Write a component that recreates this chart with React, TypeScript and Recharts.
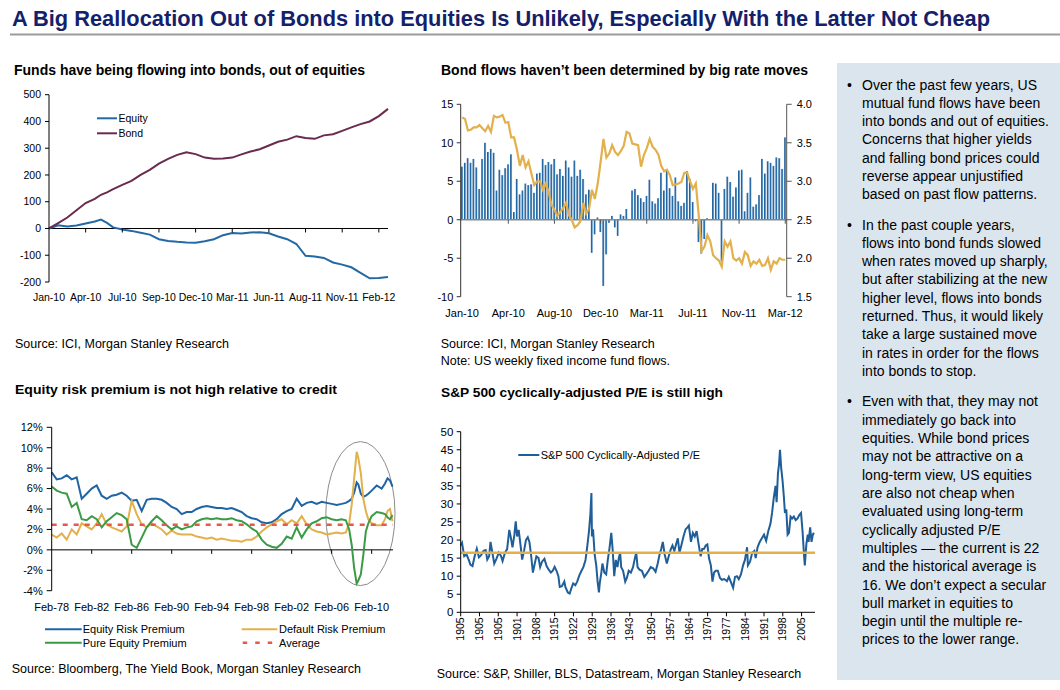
import React from 'react';
import { LineChart, Line, ComposedChart, Bar, XAxis, YAxis, ReferenceLine, ReferenceArea, ReferenceDot } from 'recharts';

const FONT = '"Liberation Sans", Arial, sans-serif';

// --- Chart 1: cumulative fund flows ($bn), x = weeks since Jan-10
const fundWeeks = [0, 3, 6, 9, 12, 15, 17, 19, 21, 24, 27, 30, 33, 36, 39, 42, 45, 48, 51, 54, 57, 60, 63, 66, 69, 72, 75, 78, 81, 84, 87, 90, 93, 96, 99, 102, 105, 108, 111];
const equityFlows = [0, 12, 7, 11, 19, 26, 33, 21, 4, -4, -9, -16, -23, -40, -47, -50, -52, -53, -48, -40, -25, -17, -19, -15, -14, -18, -30, -40, -58, -102, -105, -110, -127, -135, -145, -166, -186, -185, -181];
const bondFlows = [0, 20, 41, 68, 95, 111, 126, 135, 147, 163, 178, 200, 219, 242, 260, 275, 285, 278, 265, 261, 262, 265, 277, 288, 296, 310, 324, 332, 345, 338, 335, 348, 352, 365, 378, 390, 400, 420, 447];
const fundTickWeeks = [0, 12, 24, 36, 48, 60, 72, 84, 96, 108];
const fundTickLabels = ['Jan-10', 'Apr-10', 'Jul-10', 'Sep-10', 'Dec-10', 'Mar-11', 'Jun-11', 'Aug-11', 'Nov-11', 'Feb-12'];
const fundTicksY = [-200, -100, 0, 100, 200, 300, 400, 500];

// --- Chart 2: weekly bond fund flows ($bn) and 10y yield (%)
const weeklyFlows = [
  6.9, 7.4, 8.0, 7.4, 7.9, 6.8, 4.0, 7.9, 10.0, 8.8,
  9.2, 8.7, 3.8, 6.5, 5.8, 6.7, 7.2, 8.5, 1.0, 5.3,
  3.3, 3.8, 4.7, 4.5, 4.6, 3.5, 6.0, 6.1, 7.9, 7.1,
  7.5, 7.2, 7.9, 5.9, 6.6, 5.7, 7.7, 6.8, 5.6, 7.7,
  5.7, 6.5, 5.3, 3.3, 3.9, -4.3, -1.9, 0.3, -1.6, -8.6,
  -4.5, -0.4, 0.5, -1.0, -2.1, 0.7, 0.5, 1.4, 0.1, 3.8,
  4.0, 3.2, 2.8, 2.3, 3.1, 5.2, 2.4, 2.1, 2.8, 6.1,
  3.8, 6.5, 4.1, 3.1, 5.5, 2.4, 1.8, 2.2, 6.3, 5.3,
  2.3, -0.2, -2.9, -4.4, -2.5, 0.2, 0.1, 4.8, 4.7, 3.5,
  -5.4, 4.0, 5.6, 4.9, 3.0, 4.2, 6.4, 6.5, 1.1, 3.5,
  5.5, 1.7, 2.0, 3.2, 7.9, 6.0, 7.6, 7.4, 7.0, 8.1,
  8.0, 6.6, 10.7,
];
const tenYearYield = [
  3.83, 3.81, 3.66, 3.67, 3.70, 3.70, 3.73, 3.69, 3.65, 3.72,
  3.64, 3.85, 3.83, 3.84, 3.86, 3.76, 3.77, 3.57, 3.57, 3.41,
  3.20, 3.34, 3.18, 3.26, 3.10, 2.95, 3.00, 3.00, 2.89, 2.97,
  2.86, 2.69, 2.63, 2.55, 2.60, 2.65, 2.72, 2.56, 2.50, 2.40,
  2.43, 2.48, 2.72, 2.58, 2.64, 2.89, 2.77, 2.97, 3.25, 3.55,
  3.31, 3.36, 3.47, 3.38, 3.34, 3.39, 3.46, 3.64, 3.62, 3.49,
  3.48, 3.47, 3.19, 3.34, 3.43, 3.55, 3.45, 3.41, 3.35, 3.20,
  3.13, 3.15, 3.08, 2.95, 2.96, 2.97, 2.99, 3.11, 3.11, 3.00,
  2.90, 2.97, 2.56, 2.09, 2.15, 2.30, 2.22, 2.04, 2.00, 1.97,
  1.89, 2.22, 2.15, 2.22, 2.00, 1.97, 2.00, 1.93, 2.08, 2.04,
  1.90, 1.96, 1.93, 1.98, 1.90, 1.91, 2.00, 1.85, 1.96, 1.93,
  2.00, 1.98, 1.98,
];
const flowTickLabels = ['Jan-10', 'Apr-10', 'Aug-10', 'Dec-10', 'Mar-11', 'Jul-11', 'Nov-11', 'Mar-12'];
const flowTickEvery = 16;

// --- Chart 3: risk premia (%), x = months since Feb-78
const erpMonths = [
  0, 6, 12, 18, 24, 30, 36, 42, 48, 54, 60, 66, 72, 78, 84, 90, 96, 102, 108, 114,
  120, 126, 132, 138, 144, 150, 156, 162, 168, 174, 180, 186, 192, 198, 204, 210, 216, 222, 228, 234,
  240, 246, 252, 258, 264, 270, 276, 282, 288, 294, 300, 306, 312, 318, 324, 330, 336, 342, 348,
  353, 357, 360, 363, 366, 368, 371, 374, 377, 380, 384, 390, 396, 400, 403, 406, 409,
];
const equityRiskPremium = [
  7.6, 6.9, 7.0, 7.3, 6.9, 7.1, 5.0, 5.5, 6.0, 6.3, 5.3, 5.0, 5.3, 5.4, 5.6, 5.3, 4.8, 4.9, 3.8, 4.9,
  5.0, 5.0, 4.9, 4.6, 4.2, 4.0, 3.5, 3.7, 3.7, 4.0, 4.2, 4.3, 4.2, 4.1, 4.1, 4.0, 4.1, 3.9, 3.7, 3.3,
  3.1, 3.0, 2.7, 2.6, 2.7, 3.0, 3.5, 3.8, 4.0, 5.0, 4.3, 4.6, 4.7, 4.5, 4.7, 4.6, 4.5, 4.4, 4.5,
  4.6, 4.8, 5.0, 5.6, 6.6, 6.4, 5.5, 5.2, 5.3, 5.5, 5.8, 6.3, 6.0, 6.5, 7.0, 6.8, 6.2,
];
const defaultRiskPremium = [
  1.5, 1.2, 1.6, 1.0, 2.0, 1.5, 2.6, 2.3, 2.0, 2.6, 3.5, 2.5, 2.2, 2.0, 1.8, 2.3, 4.8, 3.5, 2.5, 2.2,
  2.6, 2.3, 2.0, 1.5, 1.9, 1.6, 1.5, 1.5, 1.5, 1.3, 1.2, 1.1, 1.2, 1.0, 1.1, 1.0, 0.9, 0.9, 0.8, 1.0,
  1.0, 1.3, 1.8, 2.2, 2.5, 2.8, 3.0, 2.5, 2.9, 2.6, 3.3, 2.5, 2.0, 1.8, 1.7, 1.5, 1.6, 1.7, 1.6,
  1.7, 2.6, 4.4, 7.0, 9.6, 9.0, 7.5, 5.0, 3.8, 3.0, 2.6, 2.4, 2.4, 3.0, 3.8, 4.0, 2.8,
];
const pureEquityPremium = [
  6.2, 5.8, 5.6, 5.5, 4.2, 4.6, 3.0, 2.9, 3.3, 3.0, 2.2, 2.8, 3.2, 3.6, 3.4, 3.0, 0.5, 0.2, 1.2, 2.2,
  2.8, 3.3, 2.9, 2.4, 2.0, 2.3, 2.0, 2.2, 2.3, 2.8, 3.0, 3.1, 3.0, 3.1, 3.0, 3.0, 3.1, 2.9, 2.8, 2.5,
  2.1, 1.8, 1.0, 0.5, 0.3, 0.2, 0.6, 1.3, 1.1, 2.2, 1.2, 2.0, 2.6, 2.8, 3.1, 3.2, 3.0, 2.9, 3.0,
  2.9, 2.0, 0.5, -1.8, -3.3, -3.0, -2.4, -0.5, 1.8, 2.6, 3.3, 3.7, 3.6, 3.5, 3.2, 3.0, 3.4,
];
const premiumAverage = 2.45;
const erpTickMonths = [0, 48, 96, 144, 192, 240, 288, 336, 384];
const erpTickLabels = ['Feb-78', 'Feb-82', 'Feb-86', 'Feb-90', 'Feb-94', 'Feb-98', 'Feb-02', 'Feb-06', 'Feb-10'];
const erpTicksY = [-4, -2, 0, 2, 4, 6, 8, 10, 12];
const crisisCircle = { x1: 329, x2: 412, y1: -3.5, y2: 10.6 };

// --- Chart 4: S&P 500 cyclically-adjusted P/E
const capeYears = [
  1881.0, 1881.5, 1882.3, 1883.2, 1884.0, 1884.6, 1885.4, 1886.2, 1887.0, 1887.8, 1888.6, 1889.5, 1890.3, 1890.9, 1891.6,
  1892.1, 1892.8, 1893.5, 1894.3, 1895.2, 1896.0, 1896.6, 1897.5, 1898.3, 1899.1, 1899.6, 1900.3, 1901.0, 1901.5, 1902.0,
  1902.6, 1903.3, 1903.9, 1904.6, 1905.3, 1906.0, 1906.6, 1907.2, 1907.9, 1908.6, 1909.2, 1910.0, 1910.6, 1911.3, 1912.2,
  1913.0, 1913.8, 1914.6, 1915.3, 1916.0, 1916.7, 1917.4, 1917.9, 1918.7, 1919.6, 1920.0, 1920.9, 1921.6, 1922.3, 1922.9,
  1923.7, 1924.4, 1925.2, 1926.0, 1926.7, 1927.5, 1928.2, 1928.8, 1929.3, 1929.7, 1929.9, 1930.3, 1930.9, 1931.5, 1932.0,
  1932.5, 1932.8, 1933.4, 1933.8, 1934.5, 1935.2, 1935.8, 1936.4, 1937.1, 1937.6, 1938.2, 1938.8, 1939.4, 1939.9, 1940.4,
  1940.8, 1941.5, 1942.3, 1942.9, 1943.6, 1944.4, 1945.2, 1945.9, 1946.4, 1946.9, 1947.6, 1948.5, 1949.4, 1950.1, 1951.0,
  1951.8, 1952.7, 1953.6, 1954.4, 1955.1, 1955.7, 1956.3, 1957.0, 1957.8, 1958.5, 1959.3, 1959.9, 1960.6, 1961.3, 1961.9,
  1962.5, 1963.2, 1964.0, 1964.8, 1965.5, 1966.0, 1966.8, 1967.5, 1968.2, 1968.9, 1969.5, 1970.4, 1971.0, 1971.6, 1972.3,
  1972.9, 1973.5, 1974.2, 1974.8, 1975.4, 1976.0, 1976.8, 1977.6, 1978.3, 1979.2, 1980.2, 1980.9, 1981.6, 1982.5, 1983.2,
  1983.9, 1984.6, 1985.4, 1986.2, 1986.9, 1987.7, 1988.0, 1988.8, 1989.6, 1990.4, 1990.9, 1991.6, 1992.4, 1993.2, 1994.0,
  1994.8, 1995.6, 1996.4, 1997.0, 1997.6, 1998.3, 1998.7, 1999.2, 1999.6, 1999.95, 2000.4, 2000.9, 2001.4, 2001.8, 2002.3,
  2002.8, 2003.3, 2003.9, 2004.5, 2005.1, 2005.8, 2006.5, 2007.2, 2007.8, 2008.4, 2008.9, 2009.2, 2009.8, 2010.3, 2010.6,
  2011.2, 2011.7, 2012.2, 2012.6,
];
const capeValues = [
  18.5, 19.2, 15.5, 16.0, 14.5, 13.2, 12.8, 15.5, 17.6, 15.2, 15.8, 17.0, 17.2, 14.6, 15.5,
  19.5, 16.5, 13.5, 14.8, 16.5, 15.6, 14.2, 16.5, 17.5, 22.8, 21.0, 18.0, 21.5, 25.2, 21.0,
  22.8, 18.5, 14.6, 17.0, 20.0, 20.8, 19.5, 16.0, 11.0, 13.5, 15.5, 15.0, 12.5, 14.0, 14.8,
  12.8, 11.8, 11.0, 11.5, 12.6, 11.5, 10.0, 7.0, 7.2, 8.5, 7.0, 5.5, 5.2, 6.8, 8.0,
  7.5, 8.5, 10.2, 11.5, 12.5, 14.5, 18.5, 22.5, 27.0, 33.0, 21.0, 23.0, 16.0, 13.0, 8.5,
  5.5, 8.0, 11.0, 13.5, 11.0, 10.5, 14.5, 17.5, 22.0, 17.5, 10.0, 14.5, 12.5, 15.0, 16.5,
  12.5, 11.5, 8.5, 9.5, 11.5, 11.0, 12.5, 15.0, 16.5, 12.5, 11.8, 11.5, 9.8, 10.5, 11.5,
  12.5, 12.2, 11.2, 13.5, 16.0, 17.5, 19.5, 16.0, 13.5, 15.5, 17.5, 18.5, 17.0, 19.0, 20.5,
  16.5, 18.5, 21.0, 23.0, 23.5, 24.0, 19.5, 22.0, 21.0, 22.5, 19.5, 15.5, 17.5, 17.5, 18.5,
  18.8, 15.0, 13.0, 8.5, 11.0, 11.5, 11.5, 9.5, 9.0, 9.2, 8.6, 9.8, 8.5, 6.8, 9.8,
  10.0, 9.2, 10.5, 13.0, 14.5, 18.0, 13.0, 14.0, 16.5, 17.0, 15.0, 18.0, 19.5, 20.5, 21.5,
  19.8, 22.5, 24.5, 27.5, 31.5, 35.0, 30.5, 38.5, 41.0, 45.0, 40.0, 36.5, 32.0, 27.5, 28.5,
  21.5, 22.0, 26.5, 26.0, 26.5, 25.5, 26.0, 27.0, 27.5, 22.0, 16.0, 13.0, 19.0, 21.5, 19.5,
  23.5, 19.5, 21.5, 22.0,
];
const capeAverage = 16.5;
const capeTickYears = [1881, 1888, 1895, 1902, 1909, 1916, 1923, 1930, 1937, 1944, 1952, 1959, 1966, 1973, 1980, 1987, 1994, 2001, 2008];
const capeTickLabels = ['1905', '1905', '1905', '1901', '1908', '1915', '1922', '1929', '1936', '1943', '1950', '1957', '1964', '1970', '1977', '1984', '1991', '1998', '2005'];
const capeTicksY = [0, 5, 10, 15, 20, 25, 30, 35, 40, 45, 50];

// --- commentary
const bullets = [
  ['Over the past few years, US', 'mutual fund flows have been', 'into bonds and out of equities.', 'Concerns that higher yields', 'and falling bond prices could', 'reverse appear unjustified', 'based on past flow patterns.'],
  ['In the past couple years,', 'flows into bond funds slowed', 'when rates moved up sharply,', 'but after stabilizing at the new', 'higher level, flows into bonds', 'returned. Thus, it would likely', 'take a large sustained move', 'in rates in order for the flows', 'into bonds to stop.'],
  ['Even with that, they may not', 'immediately go back into', 'equities. While bond prices', 'may not be attractive on a', 'long-term view, US equities', 'are also not cheap when', 'evaluated using long-term', 'cyclically adjusted P/E', 'multiples \u2014 the current is 22', 'and the historical average is', '16. We don\u2019t expect a secular', 'bull market in equities to', 'begin until the multiple re-', 'prices to the lower range.'],
];
const bulletTops = [89.5, 229.5, 406.2];

const BLUE = '#1f64a3';
const GOLD = '#e3b04b';
const GREEN = '#3b9a45';
const MAROON = '#6b2b4f';

const tickStyle = { fontSize: 11, fill: '#000', fontFamily: FONT };

const fundData = fundWeeks.map((w, i) => ({ week: w, equity: equityFlows[i], bond: bondFlows[i] }));
const flowData = weeklyFlows.map((f, i) => ({ idx: i, flow: f, yld: tenYearYield[i] }));
const flowTickIdx = flowTickLabels.map((_, k) => k * flowTickEvery);
const erpData = erpMonths.map((m, i) => ({ month: m, erp: equityRiskPremium[i], drp: defaultRiskPremium[i], pep: pureEquityPremium[i] }));
const capeData = capeYears.map((y, i) => ({ year: y, cape: capeValues[i] }));

// small downward tick on a zero-crossing axis
const ZeroTick = (color) => (p) => (
  <line x1={p.cx} x2={p.cx} y1={p.cy} y2={p.cy + 4} stroke={color} strokeWidth={1} />
);

const FundsChart = () => (
  <LineChart width={400} height={230} data={fundData} margin={{ top: 14.7, right: 12, left: 9, bottom: 8 }}>
    <XAxis
      dataKey="week"
      type="number"
      domain={[0, 111]}
      ticks={fundTickWeeks}
      interval={0}
      tickFormatter={(v) => fundTickLabels[fundTickWeeks.indexOf(v)]}
      axisLine={false}
      tickLine={false}
      tickMargin={6}
      height={20}
      tick={{ ...tickStyle, fontSize: 10.5 }}
    />
    <YAxis
      domain={[-200, 500]}
      ticks={fundTicksY}
      interval={0}
      width={40}
      axisLine={{ stroke: '#000' }}
      tickLine={{ stroke: '#000' }}
      tickSize={4}
      tickMargin={4}
      tick={{ ...tickStyle, fontSize: 10.5 }}
    />
    <ReferenceLine y={0} stroke="#000" />
    {fundTickWeeks.slice(1).map((w) => (
      <ReferenceDot key={w} x={w} y={0} shape={ZeroTick('#000')} />
    ))}
    <Line dataKey="equity" stroke="#2369a6" strokeWidth={2} dot={false} isAnimationActive={false} />
    <Line dataKey="bond" stroke={MAROON} strokeWidth={2} dot={false} isAnimationActive={false} />
  </LineChart>
);

const FlowsChart = () => (
  <ComposedChart width={400} height={245} data={flowData} margin={{ top: 24.3, right: 3.3, left: 10.7, bottom: 8.3 }} barCategoryGap="12%">
    <defs>
      <linearGradient id="flowBar" x1="0" y1="0" x2="1" y2="0">
        <stop offset="0" stopColor="#17568f" />
        <stop offset="0.55" stopColor="#2a72b0" />
        <stop offset="1" stopColor="#a8c5e2" />
      </linearGradient>
    </defs>
    <XAxis
      dataKey="idx"
      interval={flowTickEvery - 1}
      tickFormatter={(v) => flowTickLabels[Math.round(v / flowTickEvery)]}
      axisLine={false}
      tickLine={false}
      tickMargin={6.5}
      height={20}
      tick={tickStyle}
    />
    <YAxis
      yAxisId="flow"
      domain={[-10, 15]}
      ticks={[-10, -5, 0, 5, 10, 15]}
      interval={0}
      width={30}
      axisLine={{ stroke: '#333' }}
      tickLine={{ stroke: '#333' }}
      tickSize={4}
      tickMargin={3.4}
      tick={tickStyle}
    />
    <YAxis
      yAxisId="yield"
      orientation="right"
      domain={[1.5, 4]}
      ticks={[1.5, 2, 2.5, 3, 3.5, 4]}
      interval={0}
      tickFormatter={(v) => v.toFixed(1)}
      width={30}
      axisLine={{ stroke: '#555' }}
      tickLine={{ stroke: '#555' }}
      tickSize={5}
      tickMargin={5}
      tick={tickStyle}
    />
    <Bar yAxisId="flow" dataKey="flow" fill="url(#flowBar)" isAnimationActive={false} />
    <ReferenceLine yAxisId="flow" y={0} stroke="#888" strokeWidth={1.5} />
    {flowTickIdx.slice(1).map((i) => (
      <ReferenceDot key={i} yAxisId="flow" x={i} y={0} shape={ZeroTick('#555')} />
    ))}
    <Line yAxisId="yield" dataKey="yld" stroke={GOLD} strokeWidth={2.2} dot={false} isAnimationActive={false} />
  </ComposedChart>
);

const EllipseShape = (p) => (
  <ellipse cx={p.x + p.width / 2} cy={p.y + p.height / 2} rx={p.width / 2} ry={p.height / 2} fill="none" stroke="#8c8c8c" strokeWidth={1} />
);

const PremiumChart = () => (
  <LineChart width={410} height={220} data={erpData} margin={{ top: 27.3, right: 17, left: 11.7, bottom: 9.3 }}>
    <XAxis
      dataKey="month"
      type="number"
      domain={[0, 409.6]}
      ticks={erpTickMonths}
      interval={0}
      tickFormatter={(v) => erpTickLabels[erpTickMonths.indexOf(v)]}
      axisLine={false}
      tickLine={false}
      tickMargin={6.4}
      height={20}
      tick={tickStyle}
    />
    <YAxis
      domain={[-4, 12]}
      ticks={erpTicksY}
      interval={0}
      tickFormatter={(v) => `${v}%`}
      width={40}
      axisLine={{ stroke: '#000' }}
      tickLine={{ stroke: '#000' }}
      tickSize={5}
      tickMargin={4}
      tick={tickStyle}
    />
    <ReferenceLine y={0} stroke="#000" />
    {erpTickMonths.slice(1).map((m) => (
      <ReferenceDot key={m} x={m} y={0} shape={ZeroTick('#000')} />
    ))}
    <Line dataKey="erp" stroke={BLUE} strokeWidth={2} dot={false} isAnimationActive={false} />
    <Line dataKey="drp" stroke={GOLD} strokeWidth={2} dot={false} isAnimationActive={false} />
    <Line dataKey="pep" stroke={GREEN} strokeWidth={2} dot={false} isAnimationActive={false} />
    <ReferenceLine y={premiumAverage} stroke="#e8574a" strokeWidth={2.5} strokeDasharray="5 6" />
    <ReferenceArea
      x1={crisisCircle.x1}
      x2={crisisCircle.x2}
      y1={crisisCircle.y1}
      y2={crisisCircle.y2}
      ifOverflow="visible"
      shape={EllipseShape}
    />
  </LineChart>
);

const CapeTick = ({ x, y, index }) => (
  <text x={x} y={y} transform={`rotate(-90 ${x} ${y})`} textAnchor="end" dy="0.35em" fontSize={10.5} fill="#000" fontFamily={FONT}>
    {capeTickLabels[index]}
  </text>
);

const CapeChart = () => (
  <LineChart width={400} height={260} data={capeData} margin={{ top: 31.7, right: 5, left: 10.7, bottom: 7.7 }}>
    <XAxis
      dataKey="year"
      type="number"
      domain={[1881, 2013]}
      ticks={capeTickYears}
      interval={0}
      axisLine={{ stroke: '#000' }}
      tickLine={{ stroke: '#000' }}
      tickSize={4}
      tickMargin={1}
      height={40}
      tick={<CapeTick />}
    />
    <YAxis
      domain={[0, 50]}
      ticks={capeTicksY}
      interval={0}
      width={30}
      axisLine={{ stroke: '#000' }}
      tickLine={{ stroke: '#000' }}
      tickSize={4}
      tickMargin={3.4}
      tick={{ ...tickStyle, fontSize: 11.5 }}
    />
    <Line dataKey="cape" stroke="#1f5e98" strokeWidth={2} dot={false} isAnimationActive={false} />
    <ReferenceLine y={capeAverage} stroke={GOLD} strokeWidth={2.5} />
  </LineChart>
);

const Txt = ({ x, y, size = 12.5, bold = false, len, color = '#000', children }) => (
  <text
    x={x}
    y={y}
    fontSize={size}
    fontWeight={bold ? 'bold' : 'normal'}
    fill={color}
    fontFamily={FONT}
    textLength={len}
    lengthAdjust={len ? 'spacingAndGlyphs' : undefined}
  >
    {children}
  </text>
);

export default function App() {
  return (
    <div style={{ position: 'absolute', left: 0, top: 0, width: 1060, height: 690, background: '#fff', overflow: 'hidden', fontFamily: FONT }}>
      <svg width={1060} height={690} style={{ position: 'absolute', left: 0, top: 0 }}>
        <rect x={837} y={63} width={223} height={617} fill="#dbe5ee" />
        <Txt x={12} y={26} size={22} bold len={978} color="#14216a">
          A Big Reallocation Out of Bonds into Equities Is Unlikely, Especially With the Latter Not Cheap
        </Txt>
        <line x1={10} x2={1060} y1={34.5} y2={34.5} stroke="#9b9b9b" strokeWidth={2} />

        <Txt x={14} y={75} size={14.5} bold len={351}>Funds have being flowing into bonds, out of equities</Txt>
        <Txt x={441} y={75} size={14.5} bold len={367}>Bond flows haven’t been determined by big rate moves</Txt>
        <Txt x={15} y={394} size={13} bold len={322}>Equity risk premium is not high relative to credit</Txt>
        <Txt x={441} y={397} size={13} bold len={282}>S&amp;P 500 cyclically-adjusted P/E is still high</Txt>

        <Txt x={15} y={347.5}>Source: ICI, Morgan Stanley Research</Txt>
        <Txt x={440.7} y={347.5}>Source: ICI, Morgan Stanley Research</Txt>
        <Txt x={440.7} y={364.5}>Note: US weekly fixed income fund flows.</Txt>
        <Txt x={11.7} y={672.5}>Source: Bloomberg, The Yield Book, Morgan Stanley Research</Txt>
        <Txt x={436.7} y={677.5}>Source: S&amp;P, Shiller, BLS, Datastream, Morgan Stanley Research</Txt>

        <line x1={97} x2={117} y1={118.3} y2={118.3} stroke="#2369a6" strokeWidth={2} />
        <Txt x={118.5} y={122} size={10.5}>Equity</Txt>
        <line x1={97} x2={117} y1={133.3} y2={133.3} stroke={MAROON} strokeWidth={2} />
        <Txt x={118.5} y={137} size={10.5}>Bond</Txt>

        <line x1={45} x2={81.7} y1={629.3} y2={629.3} stroke={BLUE} strokeWidth={2} />
        <Txt x={82.7} y={633.3} size={11}>Equity Risk Premium</Txt>
        <line x1={241.7} x2={277.3} y1={629.3} y2={629.3} stroke={GOLD} strokeWidth={2} />
        <Txt x={279} y={633.3} size={11}>Default Risk Premium</Txt>
        <line x1={45} x2={81.7} y1={642.7} y2={642.7} stroke={GREEN} strokeWidth={2} />
        <Txt x={82.7} y={646.7} size={11}>Pure Equity Premium</Txt>
        <line x1={242.7} x2={277.3} y1={642.7} y2={642.7} stroke="#e8574a" strokeWidth={2.5} strokeDasharray="4.5 8" />
        <Txt x={279} y={646.7} size={11}>Average</Txt>

        <line x1={518.3} x2={539.3} y1={455} y2={455} stroke="#1f5e98" strokeWidth={2} />
        <Txt x={540.7} y={459} size={11}>S&amp;P 500 Cyclically-Adjusted P/E</Txt>

        {bullets.map((lines, b) => (
          <g key={b}>
            <Txt x={847} y={bulletTops[b]} size={14}>•</Txt>
            {lines.map((ln, i) => (
              <Txt key={i} x={862} y={bulletTops[b] + i * 18.33} size={14}>{ln}</Txt>
            ))}
          </g>
        ))}
      </svg>
      <div style={{ position: 'absolute', left: 0, top: 80 }}><FundsChart /></div>
      <div style={{ position: 'absolute', left: 420, top: 80 }}><FlowsChart /></div>
      <div style={{ position: 'absolute', left: 0, top: 400 }}><PremiumChart /></div>
      <div style={{ position: 'absolute', left: 420, top: 400 }}><CapeChart /></div>
    </div>
  );
}
